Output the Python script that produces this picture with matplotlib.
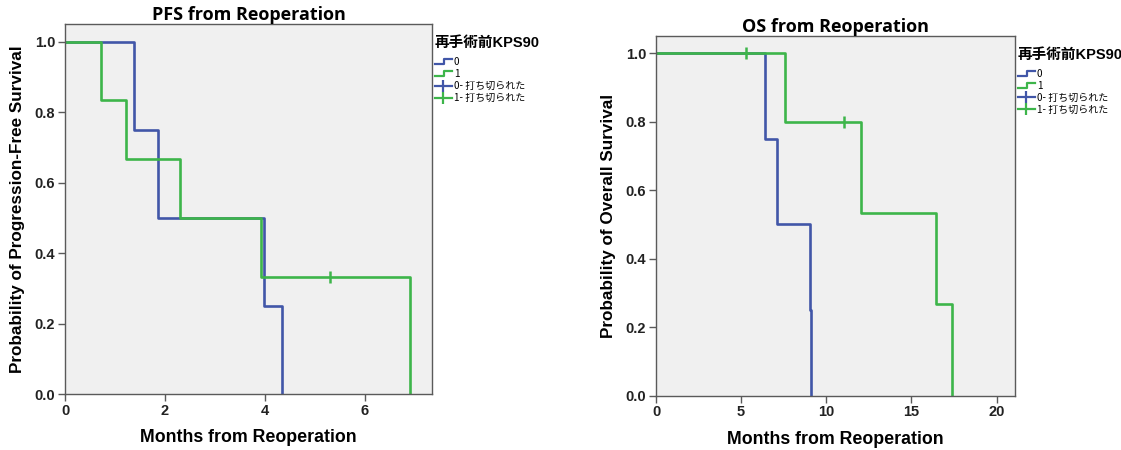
import matplotlib
matplotlib.use("Agg")
import matplotlib.pyplot as plt
from matplotlib.lines import Line2D
from matplotlib.legend_handler import HandlerBase

# survival steps (group 0 / group 1 of KPS90)
pfs_0_times = [0, 1.38, 1.85, 3.98, 4.34]
pfs_0_surv = [1.0, 0.75, 0.50, 0.25, 0.0]
pfs_1_times = [0, 0.72, 1.22, 2.30, 3.92, 6.90]
pfs_1_surv = [1.0, 0.833, 0.667, 0.50, 0.333, 0.0]
pfs_1_cens_times = [5.29]
pfs_1_cens_surv = [0.333]

os_0_times = [0, 6.40, 7.08, 9.05, 9.10]
os_0_surv = [1.0, 0.75, 0.50, 0.25, 0.0]
os_1_times = [0, 7.59, 12.04, 16.43, 17.41]
os_1_surv = [1.0, 0.80, 0.533, 0.267, 0.0]
os_1_cens_times = [5.31, 11.03]
os_1_cens_surv = [1.0, 0.80]

legend_title = "再手術前KPS90"
legend_labels = ["0", "1", "0- 打ち切られた", "1- 打ち切られた"]

BLUE = "#4156A8"
GREEN = "#3DB54A"
BG = "#F0F0F0"
FRAME = "#5A5A5A"
LW = 1.9
LBL_FONT = ["Liberation Sans", "DejaVu Sans"]
JP_FONT = ["Noto Sans CJK JP", "DejaVu Sans"]
TITLE_FONT = ["Liberation Sans", "Noto Sans CJK JP"]


# draws the little step glyph used by SPSS legends
class StepHandler(HandlerBase):
    def create_artists(self, legend, orig_handle, xdescent, ydescent,
                       width, height, fontsize, trans):
        x0 = -xdescent
        y0 = -ydescent
        xs = [x0, x0 + width * 0.55, x0 + width * 0.55, x0 + width]
        ys = [y0 + height * 0.15, y0 + height * 0.15, y0 + height * 0.85, y0 + height * 0.85]
        line = Line2D(xs, ys, color=orig_handle.get_color(), lw=1.6)
        line.set_transform(trans)
        return [line]


def km_panel(ax, times0, surv0, times1, surv1, cens_t, cens_s, xmax, xticks, title, ylabel):
    ax.set_facecolor(BG)
    ax.step(times0, surv0, where="post", color=BLUE, lw=LW)
    ax.step(times1, surv1, where="post", color=GREEN, lw=LW)
    ax.plot(cens_t, cens_s, ls="none", marker="|", ms=8, mew=1.8, color=GREEN)

    ax.set_xlim(0, xmax)
    ax.set_ylim(0, 1.05)
    ax.set_xticks(xticks)
    ax.set_yticks([0, 0.2, 0.4, 0.6, 0.8, 1.0])
    ax.set_yticklabels([f"{v:.1f}" for v in [0, 0.2, 0.4, 0.6, 0.8, 1.0]])
    for s in ax.spines.values():
        s.set_color(FRAME)
        s.set_linewidth(1.0)
    ax.tick_params(direction="out", length=5, width=1, color=FRAME, pad=2)
    for lab in ax.get_xticklabels() + ax.get_yticklabels():
        lab.set_fontfamily(LBL_FONT)
        lab.set_fontweight("bold")
        lab.set_fontsize(10.5)
        lab.set_color("#222222")

    ax.set_title(title, fontsize=13, fontweight="bold", family=["Open Sans", "DejaVu Sans"], pad=2)
    ax.set_xlabel("Months from Reoperation", fontsize=12.8, fontweight="bold", family=LBL_FONT, labelpad=8)
    ax.set_ylabel(ylabel, fontsize=12.3, fontweight="bold", family=LBL_FONT, labelpad=7)

    handles = [Line2D([], [], color=BLUE), Line2D([], [], color=GREEN),
               Line2D([], [], color=BLUE, marker="|", ms=8, mew=1.6, lw=1.6),
               Line2D([], [], color=GREEN, marker="|", ms=8, mew=1.6, lw=1.6)]
    leg = ax.legend(handles, legend_labels, loc="upper left", bbox_to_anchor=(0.997, 0.978),
                    frameon=False, prop={"family": JP_FONT, "size": 7.2}, title=legend_title,
                    title_fontproperties={"family": TITLE_FONT, "weight": "bold", "size": 10.5},
                    alignment="left", handlelength=1.7, handletextpad=0.2, labelspacing=0.2,
                    numpoints=1, borderaxespad=0.0,
                    handler_map={handles[0]: StepHandler(), handles[1]: StepHandler()})
    leg._legend_box.sep = 5


fig = plt.figure(figsize=(11.21, 4.5), dpi=100)
ax1 = fig.add_axes([0.058, 0.1244, 0.3274, 0.8222])
ax2 = fig.add_axes([0.5852, 0.1207, 0.3202, 0.7993])

km_panel(ax1, pfs_0_times, pfs_0_surv, pfs_1_times, pfs_1_surv, pfs_1_cens_times, pfs_1_cens_surv,
         7.34, [0, 2, 4, 6], "PFS from Reoperation", "Probability of Progression-Free Survival")
km_panel(ax2, os_0_times, os_0_surv, os_1_times, os_1_surv, os_1_cens_times, os_1_cens_surv,
         21.08, [0, 5, 10, 15, 20], "OS from Reoperation", "Probability of Overall Survival")

fig.savefig("out.png", dpi=100)
